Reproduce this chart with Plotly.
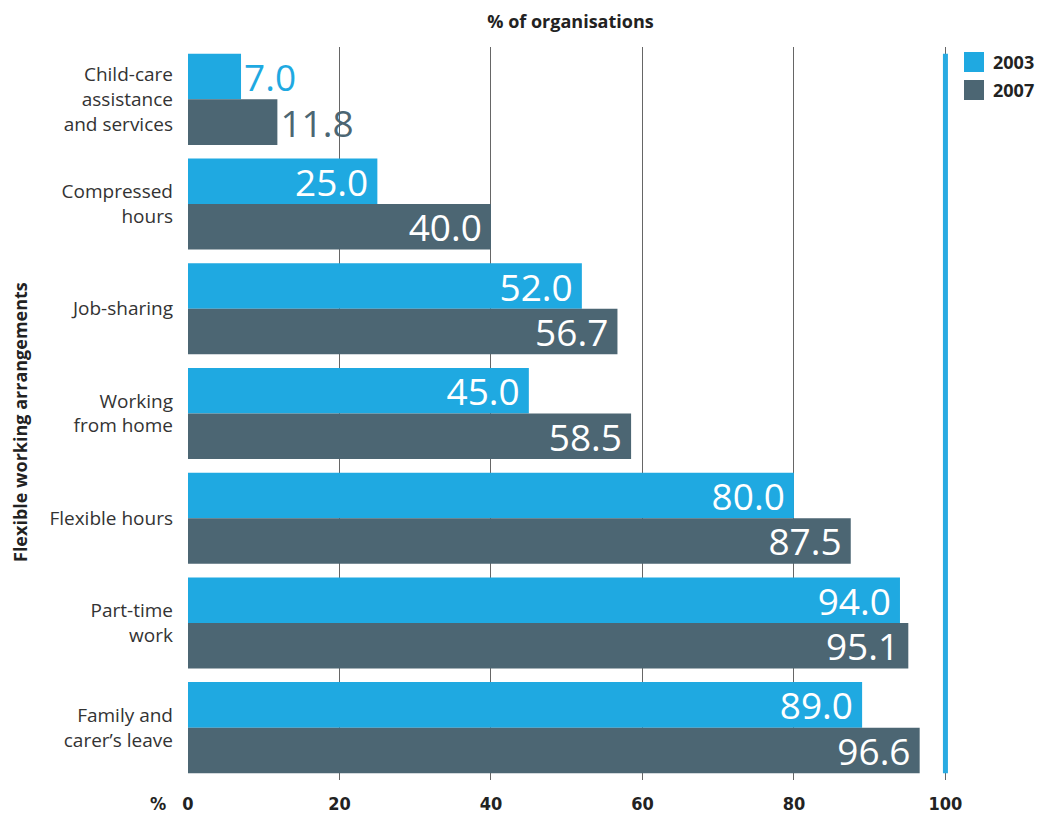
import plotly.graph_objects as go

categories = ["Child-care<br>assistance<br>and services", "Compressed<br>hours", "Job-sharing",
              "Working<br>from home", "Flexible hours", "Part-time<br>work", "Family and<br>carer’s leave"]
series_names = ["2003", "2007"]
values_2003 = [7.0, 25.0, 52.0, 45.0, 80.0, 94.0, 89.0]
values_2007 = [11.8, 40.0, 56.7, 58.5, 87.5, 95.1, 96.6]
x_ticks = [0, 20, 40, 60, 80, 100]

colors = ["#1FA9E1", "#4C6673"]
W, H = 1043, 816
ml, mr, mt, mb = 188, 90, 47, 36
pw, ph = W - ml - mr, H - mt - mb
narrow = "DejaVu Sans Condensed, Liberation Sans Narrow, Roboto, sans-serif"

def px_x(p):
    return (p - ml) / pw

def px_y(p):
    return (H - mb - p) / ph

fig = go.Figure()
for name, vals, col in zip(series_names, [values_2003, values_2007], colors):
    pos = ["outside" if v < 15 else "inside" for v in vals]
    tcol = [col if v < 15 else "white" for v in vals]
    fig.add_trace(go.Bar(
        y=categories, x=vals, name=name, orientation="h",
        marker=dict(color=col, line=dict(width=0)),
        text=[f"{v:.1f}\u2009" for v in vals],
        textposition=pos, insidetextanchor="end", textangle=0,
        constraintext="none", cliponaxis=False,
        textfont=dict(family="Open Sans", size=37, color=tcol),
        showlegend=False,
    ))

fig.update_layout(
    width=W, height=H, margin=dict(l=ml, r=mr, t=mt, b=mb, autoexpand=False),
    paper_bgcolor="white", plot_bgcolor="white",
    barmode="group", bargap=0.1306, bargroupgap=0,
    font=dict(family="Open Sans", color="#333333"),
    title=dict(text="<b>% of organisations</b>", x=0.5, xref="paper", xanchor="center",
               y=(H - 22) / H, yanchor="middle", font=dict(size=18, color="#222222")),
)
fig.update_xaxes(range=[0, 101], tickvals=x_ticks, ticktext=[str(t) for t in x_ticks],
                 showgrid=True, gridcolor="#666666", gridwidth=1, automargin=False,
                 zeroline=True, zerolinecolor="rgba(0,0,0,0)", zerolinewidth=1,
                 showline=False, ticks="", ticklabelstandoff=11,
                 tickfont=dict(family=narrow, size=18, color="#222222", weight="bold"))
fig.update_yaxes(autorange="reversed", showgrid=False, showline=False, ticks="", automargin=False,
                 ticklabelstandoff=14, tickfont=dict(family="Open Sans", size=19, color="#333333"))

# vertical 100% reference line
fig.add_shape(type="line", xref="x", yref="y", x0=100, x1=100, y0=-0.5 + 0.0653, y1=6.5 - 0.0653,
              line=dict(color="#29ABE2", width=5), layer="above")

# "%" before 0 tick
fig.add_annotation(text="<b>%</b>", xref="paper", yref="paper", x=px_x(158), y=px_y(803),
                   xanchor="center", yanchor="middle", showarrow=False,
                   font=dict(family=narrow, size=18, color="#222222"))
# y axis title
fig.add_annotation(text="<b>Flexible working arrangements</b>", xref="paper", yref="paper",
                   x=px_x(20), y=px_y(422), textangle=-90, xanchor="center", yanchor="middle",
                   showarrow=False, font=dict(family="Open Sans", size=18, color="#222222"))

# custom legend
legend_rows = [(52, 72), (80, 100)]
for name, col, (t, b) in zip(series_names, colors, legend_rows):
    fig.add_shape(type="rect", xref="paper", yref="paper", x0=px_x(964), x1=px_x(984),
                  y0=px_y(b), y1=px_y(t), fillcolor=col, line=dict(width=0))
    fig.add_annotation(text=f"<b>{name}</b>", xref="paper", yref="paper", x=px_x(991),
                       y=px_y((t + b) / 2), xanchor="left", yanchor="middle", showarrow=False,
                       font=dict(family="Open Sans", size=18, color="#222222"))

fig.write_html("out.html")
